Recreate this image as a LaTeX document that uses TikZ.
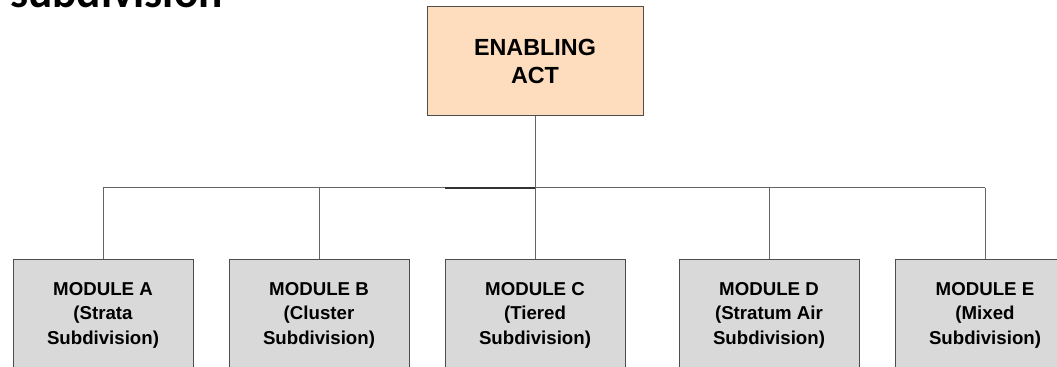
\documentclass[tikz,border=0pt]{standalone}
\usepackage{fontspec}
\setmainfont{Liberation Sans}
\newfontfamily\headfont{Carlito}
\definecolor{actfill}{RGB}{253,221,190}
\definecolor{modfill}{RGB}{217,217,217}
\definecolor{boxline}{RGB}{77,77,77}
\definecolor{wire}{RGB}{100,100,100}
\begin{document}
\begin{tikzpicture}[x=0.75pt,y=-0.75pt,
  actbox/.style={draw=boxline,fill=actfill,line width=0.75pt,inner sep=0pt,
    minimum width=216*0.75pt,minimum height=109*0.75pt,align=center,
    font=\fontsize{17.5}{21}\selectfont\bfseries},
  modbox/.style={draw=boxline,fill=modfill,line width=0.75pt,inner sep=0pt,
    minimum width=180*0.75pt,minimum height=112*0.75pt,align=center,
    font=\fontsize{14}{18.4}\selectfont\bfseries},
  link/.style={draw=wire,line width=0.75pt}]
\useasboundingbox (0,0) rectangle (1057,367);

% heading, mostly above the page edge
\node[anchor=base east,inner sep=0pt,font=\headfont\fontsize{34}{40}\selectfont\bfseries]
  (head) at (223,7.8) {f subdivision};

% top box
\node[actbox] (act) at (535,61.5) {ENABLING\\ACT};

% module boxes
\node[modbox] (modA) at (103,315) {MODULE A\\(Strata\\Subdivision)};
\node[modbox] (modB) at (319,315) {MODULE B\\(Cluster\\Subdivision)};
\node[modbox] (modC) at (535,315) {MODULE C\\(Tiered\\Subdivision)};
\node[modbox] (modD) at (769,315) {MODULE D\\(Stratum Air\\Subdivision)};
\node[modbox] (modE) at (985,315) {MODULE E\\(Mixed\\Subdivision)};

% distribution bus
\coordinate (busA) at (103,188);
\coordinate (busB) at (319,188);
\coordinate (busC) at (535,188);
\coordinate (busD) at (769,188);
\coordinate (busE) at (985,188);
\coordinate (busK) at (445,188);

\draw[link] (act.south) -- (busC);
\draw[link] (busA) -- (busE);
\draw[draw=black!80,line width=1.1pt] (busK) -- (busC);
\foreach \m in {A,B,C,D,E}
  \draw[link] (bus\m) -- (mod\m.north);
\end{tikzpicture}
\end{document}
